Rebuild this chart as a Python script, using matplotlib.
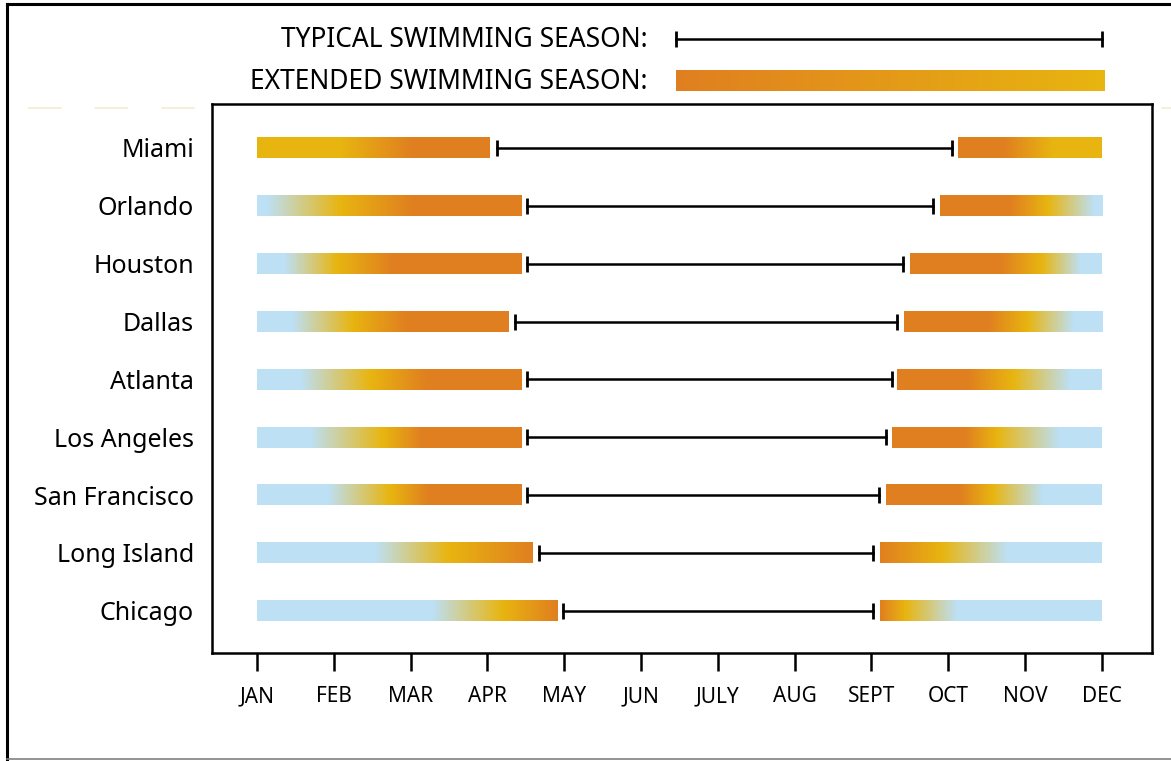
import numpy as np
import matplotlib
matplotlib.use("Agg")
import matplotlib.pyplot as plt
from matplotlib.colors import to_rgb
from matplotlib.lines import Line2D
from matplotlib.transforms import blended_transform_factory

plt.rcParams["font.family"] = ["Noto Sans", "DejaVu Sans"]

months = ["JAN", "FEB", "MAR", "APR", "MAY", "JUN", "JULY", "AUG", "SEPT", "OCT", "NOV", "DEC"]
cities = ["Miami", "Orlando", "Houston", "Dallas", "Atlanta", "Los Angeles",
          "San Francisco", "Long Island", "Chicago"]

# month positions: 0 = JAN ... 11 = DEC
left_bar_end = [3.03, 3.44, 3.44, 3.28, 3.44, 3.44, 3.44, 3.59, 3.91]
typical_start = [3.12, 3.51, 3.51, 3.36, 3.51, 3.51, 3.51, 3.67, 3.98]
typical_end = [9.05, 8.80, 8.41, 8.33, 8.27, 8.19, 8.10, 8.02, 8.02]
right_bar_start = [9.13, 8.89, 8.50, 8.42, 8.34, 8.27, 8.19, 8.11, 8.11]

# colour stops of the extended-season bars (cold -> warm -> hot)
left_blue_end = [None, 0.13, 0.36, 0.46, 0.56, 0.69, 0.92, 1.54, 2.28]
left_yellow_at = [1.08, 1.08, 1.04, 1.24, 1.47, 1.64, 1.73, 2.49, 3.19]
left_orange_from = [2.03, 2.03, 1.77, 1.95, 2.21, 2.15, 2.23, 3.59, 3.91]
right_orange_to = [9.72, 9.80, 9.68, 9.51, 9.26, 9.22, 9.15, 8.11, 8.11]
right_yellow_at = [10.37, 10.29, 10.22, 10.03, 9.85, 9.64, 9.58, 8.93, 8.44]
right_blue_from = [None, 10.89, 10.72, 10.62, 10.59, 10.45, 10.23, 9.77, 9.11]

BLUE = "#BDE0F5"
YELLOW = "#E8B510"
ORANGE = "#E07F20"
BAR_H = 0.36


def gradient_bar(ax, x0, x1, y, stops, h=BAR_H):
    pos = [p for p, _ in stops]
    cols = np.array([to_rgb(c) for _, c in stops])
    xs = np.linspace(x0, x1, 500)
    img = np.stack([np.interp(xs, pos, cols[:, k]) for k in range(3)], axis=-1)[None, :, :]
    ax.imshow(img, extent=(x0, x1, y + h / 2, y - h / 2), aspect="auto",
              interpolation="nearest", zorder=2)


fig = plt.figure(figsize=(11.71, 7.61), dpi=100)
W, H = 1171, 761

# outer frame and faint dashed guide
fig.add_artist(Line2D([7 / W, 7 / W], [0, 1 - 4 / H], color="black", lw=2.2, transform=fig.transFigure))
fig.add_artist(Line2D([7 / W, 1], [1 - 4 / H, 1 - 4 / H], color="black", lw=2.2, transform=fig.transFigure))
fig.add_artist(Line2D([7 / W, 1], [1 - 759 / H, 1 - 759 / H], color="#808080", lw=1.2, transform=fig.transFigure))
fig.add_artist(Line2D([28 / W, 1], [1 - 108 / H, 1 - 108 / H], color="#F3EFD8", lw=1.5,
                      dashes=(16, 16), transform=fig.transFigure, zorder=-1))

ax = fig.add_axes([212 / W, 1 - 653 / H, 940 / W, 549 / H])
ax.set_facecolor("white")

for i in range(len(cities)):
    left_stops = []
    if left_blue_end[i] is not None:
        left_stops += [(0, BLUE), (left_blue_end[i], BLUE)]
    left_stops += [(left_yellow_at[i], YELLOW), (left_orange_from[i], ORANGE)]
    gradient_bar(ax, 0, left_bar_end[i], i, left_stops)

    right_stops = [(right_orange_to[i], ORANGE), (right_yellow_at[i], YELLOW)]
    if right_blue_from[i] is not None:
        right_stops += [(right_blue_from[i], BLUE)]
    gradient_bar(ax, right_bar_start[i], 11, i, right_stops)

    ax.plot([typical_start[i], typical_end[i]], [i, i], color="black", lw=1.8,
            marker="|", ms=12, mew=2, zorder=3)

ax.set_xlim(-0.586, 11.654)
ax.set_ylim(8.73, -0.76)
ax.set_xticks(range(12))
ax.set_xticklabels(months, fontsize=15)
ax.set_yticks(range(len(cities)))
ax.set_yticklabels(cities, fontsize=18)
ax.tick_params(axis="x", direction="out", length=13, width=1.8, pad=11)
ax.tick_params(axis="y", length=0, pad=13)
for s in ax.spines.values():
    s.set_linewidth(1.8)

# legend
fig.text(648 / W, 1 - 40 / H, "TYPICAL SWIMMING SEASON:", ha="right", va="center", fontsize=19)
fig.text(648 / W, 1 - 82 / H, "EXTENDED SWIMMING SEASON:", ha="right", va="center", fontsize=19)
trans = blended_transform_factory(ax.transData, fig.transFigure)
leg_x0 = (676 - 257) / 76.8
ax.plot([leg_x0, 11], [1 - 39 / H, 1 - 39 / H], color="black", lw=1.8, marker="|",
        ms=12, mew=2, transform=trans, clip_on=False)
lax = fig.add_axes([676 / W, 1 - 91 / H, 429 / W, 21 / H])
lax.axis("off")
gradient_bar(lax, 0, 1, 0, [(0, ORANGE), (1, YELLOW)], h=1)
lax.set_xlim(0, 1)
lax.set_ylim(0.5, -0.5)

fig.savefig("out.png", dpi=100)
